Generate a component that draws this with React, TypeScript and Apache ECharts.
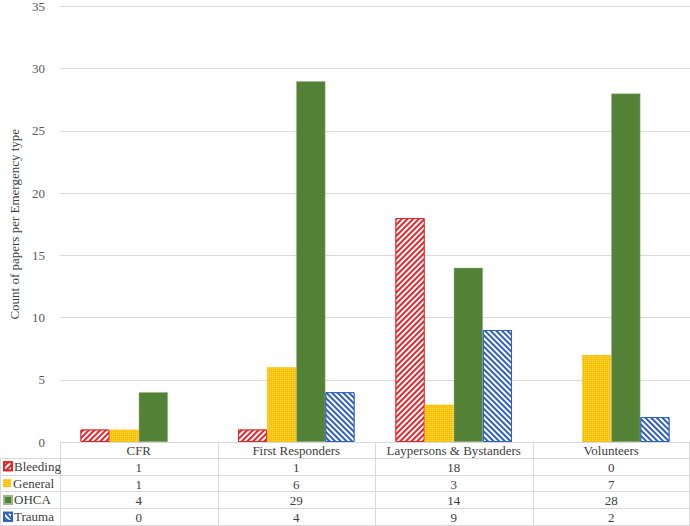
import React, { useEffect, useRef } from 'react';
import * as echarts from 'echarts';

const categories = ['CFR', 'First Responders', 'Laypersons & Bystanders', 'Volunteers'];
const seriesNames = ['Bleeding', 'General', 'OHCA', 'Trauma'];
const bleeding = [1, 1, 18, 0];
const general = [1, 6, 3, 7];
const ohca = [4, 29, 14, 28];
const trauma = [0, 4, 9, 2];
const yAxisTitle = 'Count of papers per Emergency type';
const yMin = 0;
const yMax = 35;
const yStep = 5;

const W = 690;
const H = 526;
const GRID_LEFT = 60;
const GRID_TOP = 5;
const AXIS_Y = 442;
const ROW_H = (H - AXIS_Y) / 5;
const FONT = 'Liberation Serif, Times New Roman, serif';
const LINE = '#d9d9d9';
const TXT = '#404040';

const RED = '#E3262B';
const YELLOW = '#FFC000';
const GREEN = '#538135';
const BLUE = '#2F5FBF';

export default function App() {
  const ref = useRef<HTMLDivElement>(null);
  useEffect(() => {
    if (!ref.current) return;
    const chart = echarts.init(ref.current, undefined, { renderer: 'svg' });
    const values = [bleeding, general, ohca, trauma];
    const colW = (W - GRID_LEFT) / categories.length;

    const graphics: any[] = [];
    const ln = (x1: number, y1: number, x2: number, y2: number) =>
      graphics.push({ type: 'line', silent: true, shape: { x1, y1, x2, y2 }, style: { stroke: LINE, lineWidth: 1 } });
    for (let r = 1; r <= 5; r++) {
      const y = Math.round(AXIS_Y + r * ROW_H) - 0.5;
      ln(0, y, W, y);
    }
    ln(0.5, AXIS_Y + ROW_H, 0.5, H);
    for (let c = 0; c <= categories.length; c++) {
      const x = Math.min(Math.round(GRID_LEFT + c * colW) + 0.5, W - 0.5);
      ln(x, AXIS_Y, x, H);
    }
    values.forEach((arr, r) => {
      arr.forEach((v, c) => {
        graphics.push({
          type: 'text',
          silent: true,
          x: GRID_LEFT + (c + 0.5) * colW,
          y: AXIS_Y + (r + 1.5) * ROW_H,
          style: { text: String(v), fill: TXT, fontFamily: FONT, fontSize: 13, align: 'center', verticalAlign: 'middle' },
        });
      });
    });

    const legends = seriesNames.map((name, i) => ({
      orient: 'horizontal',
      left: 3,
      top: AXIS_Y + (i + 1) * ROW_H + 1,
      itemWidth: 8,
      itemHeight: 8,
      itemGap: 0,
      icon: 'rect',
      selectedMode: false,
      padding: 0,
      data: [name],
      textStyle: { fontFamily: FONT, fontSize: 13, color: TXT, padding: [1, 0, 0, -3] },
    }));

    const decals: any[] = [
      { symbol: 'rect', symbolSize: 1, dashArrayX: [1, 0], dashArrayY: [1.5, 1.5], rotation: -Math.PI / 4, color: '#ffffff' },
      { symbol: 'rect', symbolSize: 1, dashArrayX: [1, 1], dashArrayY: [1, 1], rotation: 0, color: 'rgba(255,240,180,0.55)' },
      null,
      { symbol: 'rect', symbolSize: 1, dashArrayX: [1, 0], dashArrayY: [1.5, 1.5], rotation: Math.PI / 4, color: '#ffffff' },
    ];
    const colors = [RED, YELLOW, GREEN, BLUE];
    const borders = [RED, YELLOW, '#9db58a', BLUE];
    const bw = [1, 0, 0.5, 1];

    const series = values.map((arr, i) => ({
      name: seriesNames[i],
      type: 'bar',
      barGap: '0%',
      barCategoryGap: '26%',
      data: arr.map((v) => (v === 0 ? { value: v, itemStyle: { borderWidth: 0, opacity: 0 } } : v)),
      itemStyle: {
        color: colors[i],
        borderColor: borders[i],
        borderWidth: bw[i],
        ...(decals[i] ? { decal: decals[i] } : {}),
      },
    }));

    const option: any = {
      animation: false,
      textStyle: { fontFamily: FONT },
      grid: { left: GRID_LEFT, right: 0, top: GRID_TOP, bottom: H - AXIS_Y, containLabel: false },
      legend: legends,
      xAxis: {
        type: 'category',
        data: categories,
        axisLine: { show: true, lineStyle: { color: LINE } },
        axisTick: { show: false },
        axisLabel: { margin: 2, fontFamily: FONT, fontSize: 13, color: TXT, interval: 0 },
      },
      yAxis: {
        type: 'value',
        min: yMin,
        max: yMax,
        interval: yStep,
        name: yAxisTitle,
        nameLocation: 'middle',
        nameGap: 45,
        nameRotate: 90,
        nameTextStyle: { fontFamily: FONT, fontSize: 13, color: TXT, verticalAlign: 'middle' },
        axisLine: { show: false },
        axisTick: { show: false },
        axisLabel: { margin: 15, fontFamily: FONT, fontSize: 13, color: '#595959' },
        splitLine: { lineStyle: { color: LINE } },
      },
      series,
      graphic: graphics,
    };
    chart.setOption(option);
    return () => chart.dispose();
  }, []);
  return <div ref={ref} style={{ position: 'absolute', left: 0, top: 0, width: W, height: H }} />;
}
